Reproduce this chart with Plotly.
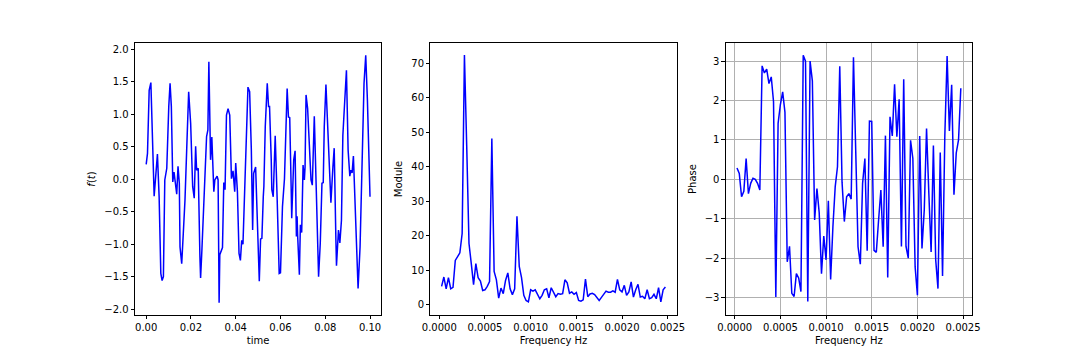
import plotly.graph_objects as go

# ---- time signal ----
time_s = [0.0, 0.00058, 0.00133, 0.00209, 0.00356, 0.00431, 0.00502, 0.00578, 0.00653, 0.00711,
          0.00769, 0.00831, 0.0092, 0.01009, 0.01067, 0.01124, 0.01187, 0.01244, 0.01302, 0.01364,
          0.01422, 0.0148, 0.01511, 0.01587, 0.01658, 0.01733, 0.01809, 0.01898, 0.01987, 0.02076,
          0.02147, 0.02209, 0.02253, 0.02324, 0.024, 0.02431, 0.02489, 0.02578, 0.02698, 0.02756,
          0.028, 0.02876, 0.02933, 0.03022, 0.03067, 0.03169, 0.03213, 0.03258, 0.03289, 0.03409,
          0.03467, 0.03524, 0.03587, 0.03658, 0.03733, 0.03809, 0.0388, 0.03956, 0.04, 0.04076,
          0.04147, 0.04209, 0.04267, 0.04324, 0.044, 0.04502, 0.04547, 0.04622, 0.04698, 0.04756,
          0.048, 0.04889, 0.05053, 0.05111, 0.05169, 0.05231, 0.05258, 0.0532, 0.05409, 0.05467,
          0.05511, 0.05587, 0.05613, 0.05676, 0.05764, 0.05853, 0.05942, 0.06, 0.06089, 0.06178,
          0.06298, 0.06356, 0.06413, 0.06476, 0.06502, 0.06591, 0.06653, 0.06711, 0.06742, 0.06769,
          0.06844, 0.06889, 0.06947, 0.07009, 0.07067, 0.07098, 0.07142, 0.07213, 0.07289, 0.07364,
          0.07422, 0.07511, 0.076, 0.07702, 0.07778, 0.07853, 0.07911, 0.07956, 0.08031, 0.08102,
          0.08178, 0.08253, 0.08342, 0.084, 0.08476, 0.08502, 0.08591, 0.08653, 0.08724, 0.08787,
          0.08844, 0.08947, 0.09022, 0.09098, 0.09142, 0.092, 0.09258, 0.09347, 0.09467, 0.09556,
          0.09631, 0.09733, 0.09809, 0.09884, 0.1]
signal = [0.23, 0.40, 1.37, 1.49, -0.26, 0.09, 0.39, -0.27, -1.45, -1.56,
          -1.50, -0.01, 0.17, 1.12, 1.48, 1.12, -0.04, 0.11, -0.06, -0.23,
          0.20, -0.06, -1.04, -1.30, -0.83, -0.32, 0.45, 1.35, 0.86, -0.11,
          -0.29, 0.51, 0.14, 0.17, -1.19, -1.52, -1.09, -0.32, 0.66, 0.76,
          1.81, 0.30, 0.65, -0.19, -0.01, 0.05, -0.01, -1.90, -1.16, -1.05,
          -0.05, -0.16, 0.99, 1.09, 0.99, 0.01, 0.13, -0.19, 0.25, -0.19,
          -1.14, -1.25, -0.94, -1.00, -0.16, 1.14, 1.42, 1.35, 0.45, -0.78,
          0.09, 0.19, -1.57, -0.92, -0.91, -0.27, -0.11, 0.81, 1.48, 1.12,
          1.12, 0.30, -0.16, -0.27, 0.67, -0.32, -1.45, -1.44, -0.42, 0.01,
          1.40, 0.96, 0.95, -0.11, -0.60, 0.30, 0.44, -0.88, -0.57, -0.88,
          -1.47, -0.70, -0.82, 0.22, -0.01, 0.19, 1.30, 1.09, 0.55, -0.01,
          -0.09, 0.97, -0.17, -1.50, -0.98, -0.06, -0.05, 0.81, 1.46, 0.86,
          0.35, -0.36, 0.19, 0.48, -0.93, -1.33, -0.78, -0.98, -0.63, 0.68,
          1.04, 1.68, 0.45, 0.05, 0.14, 0.10, 0.36, -0.52, -1.68, -1.04,
          0.09, 1.48, 1.91, 1.22, -0.27]

# ---- spectrum ----
freq_step = 0.000025
freqs = [round((i + 1) * freq_step, 7) for i in range(99)]
module = [5.3, 8.0, 4.6, 7.8, 4.6, 5.0, 12.8, 13.8, 15.0, 20.6,
          72.3, 46.0, 17.7, 11.9, 5.8, 11.9, 7.8, 6.8, 4.1, 4.3,
          5.3, 6.7, 48.1, 9.6, 7.2, 1.9, 4.8, 3.2, 7.0, 9.2,
          4.6, 2.9, 4.6, 25.6, 11.1, 7.8, 2.7, 1.2, 0.8, 4.3,
          3.9, 4.3, 3.2, 1.7, 2.7, 4.3, 4.6, 2.0, 4.9, 3.7,
          2.3, 3.2, 3.0, 3.2, 7.2, 6.3, 3.3, 3.7, 3.0, 3.5,
          1.2, 1.0, 1.4, 7.4, 2.3, 3.1, 3.3, 2.9, 2.1, 1.2,
          2.1, 3.0, 3.9, 3.6, 3.6, 4.0, 3.6, 7.3, 4.3, 3.7,
          5.6, 2.7, 3.7, 6.6, 2.2, 4.3, 5.9, 2.2, 2.4, 1.7,
          4.3, 1.7, 2.0, 3.0, 1.7, 4.9, 0.8, 4.3, 5.1]
phase = [0.29, 0.15, -0.44, -0.30, 0.53, -0.36, -0.10, 0.03, 0.00, -0.10,
         -0.27, 2.88, 2.70, 2.80, 2.43, 2.60, 1.97, -2.98, 1.42, 1.90,
         2.22, 1.70, -2.09, -1.70, -2.89, -2.97, -2.39, -2.50, -2.85, 3.15,
         3.00, -3.10, 3.00, 2.50, -1.03, -0.23, -0.85, -2.39, -1.44, -2.04,
         -0.54, -2.54, -1.20, -0.19, 0.32, 2.87, -0.07, -1.07, -0.44, -0.36,
         -0.50, 3.10, 0.70, -1.71, -2.15, -0.10, 0.53, -1.81, 1.48, 1.47,
         -1.80, -1.85, -1.03, -0.27, -1.71, 1.11, -2.49, 1.59, 1.10, 2.41,
         1.08, 2.03, -1.70, 2.54, -1.70, -2.00, 0.99, 0.53, -2.22, -2.94,
         1.10, -1.75, -0.77, 1.29, -0.36, -1.84, 0.86, -2.04, -2.77, 0.68,
         -2.45, 1.10, 3.13, 1.23, 2.40, -0.39, 0.67, 1.00, 2.31]

FONT = dict(family="DejaVu Sans", size=10, color="black")
LINE = dict(color="#0000ff", width=1.5)

fig = go.Figure()
fig.add_trace(go.Scatter(x=time_s, y=signal, mode="lines", line=LINE, xaxis="x", yaxis="y"))
fig.add_trace(go.Scatter(x=freqs, y=module, mode="lines", line=LINE, xaxis="x2", yaxis="y2"))
fig.add_trace(go.Scatter(x=freqs, y=phase, mode="lines", line=LINE, xaxis="x3", yaxis="y3"))

W, H = 1080, 360
OFF = 8  # page body margin offset
ydom = [(H - 315 + OFF) / H, (H - 43 + OFF) / H]
doms = [[(135 - OFF) / W, (381.2 - OFF) / W],
        [(430.4 - OFF) / W, (676.6 - OFF) / W],
        [(725.8 - OFF) / W, (972 - OFF) / W]]

def ax(**kw):
    base = dict(showline=True, linecolor="black", linewidth=0.8, mirror=True,
                ticks="outside", ticklen=3.5, tickwidth=0.8, tickcolor="black",
                tickfont=FONT, zeroline=False, showgrid=False, automargin=False)
    base.update(kw)
    return base

fig.update_layout(
    width=W, height=H, margin=dict(l=0, r=0, t=0, b=0),
    paper_bgcolor="white", plot_bgcolor="white", showlegend=False,
    font=FONT,
    xaxis=ax(domain=doms[0], anchor="y", range=[-0.005, 0.105], tickvals=[0, 0.02, 0.04, 0.06, 0.08, 0.10],
             tickformat=".2f", title=dict(text="time", font=FONT, standoff=4)),
    yaxis=ax(domain=ydom, anchor="x", range=[-2.09, 2.10], tickvals=[-2, -1.5, -1, -0.5, 0, 0.5, 1, 1.5, 2],
             tickformat=".1f", title=dict(text="<i>f</i>(<i>t</i>)", font=FONT, standoff=6)),
    xaxis2=ax(domain=doms[1], anchor="y2", range=[-0.0000975, 0.0025975],
              tickvals=[0, 0.0005, 0.001, 0.0015, 0.002, 0.0025], tickformat=".4f",
              title=dict(text="Frequency Hz", font=FONT, standoff=4)),
    yaxis2=ax(domain=ydom, anchor="x2", range=[-3.0, 75.8], tickvals=[0, 10, 20, 30, 40, 50, 60, 70],
              title=dict(text="Module", font=FONT, standoff=6)),
    xaxis3=ax(domain=doms[2], anchor="y3", range=[-0.0000975, 0.0025975],
              tickvals=[0, 0.0005, 0.001, 0.0015, 0.002, 0.0025], tickformat=".4f",
              showgrid=True, gridcolor="#b0b0b0", gridwidth=0.8,
              title=dict(text="Frequency Hz", font=FONT, standoff=4)),
    yaxis3=ax(domain=ydom, anchor="x3", range=[-3.44, 3.46], tickvals=[-3, -2, -1, 0, 1, 2, 3],
              showgrid=True, gridcolor="#b0b0b0", gridwidth=0.8,
              title=dict(text="Phase", font=FONT, standoff=6)),
)

fig.write_html("out.html")
